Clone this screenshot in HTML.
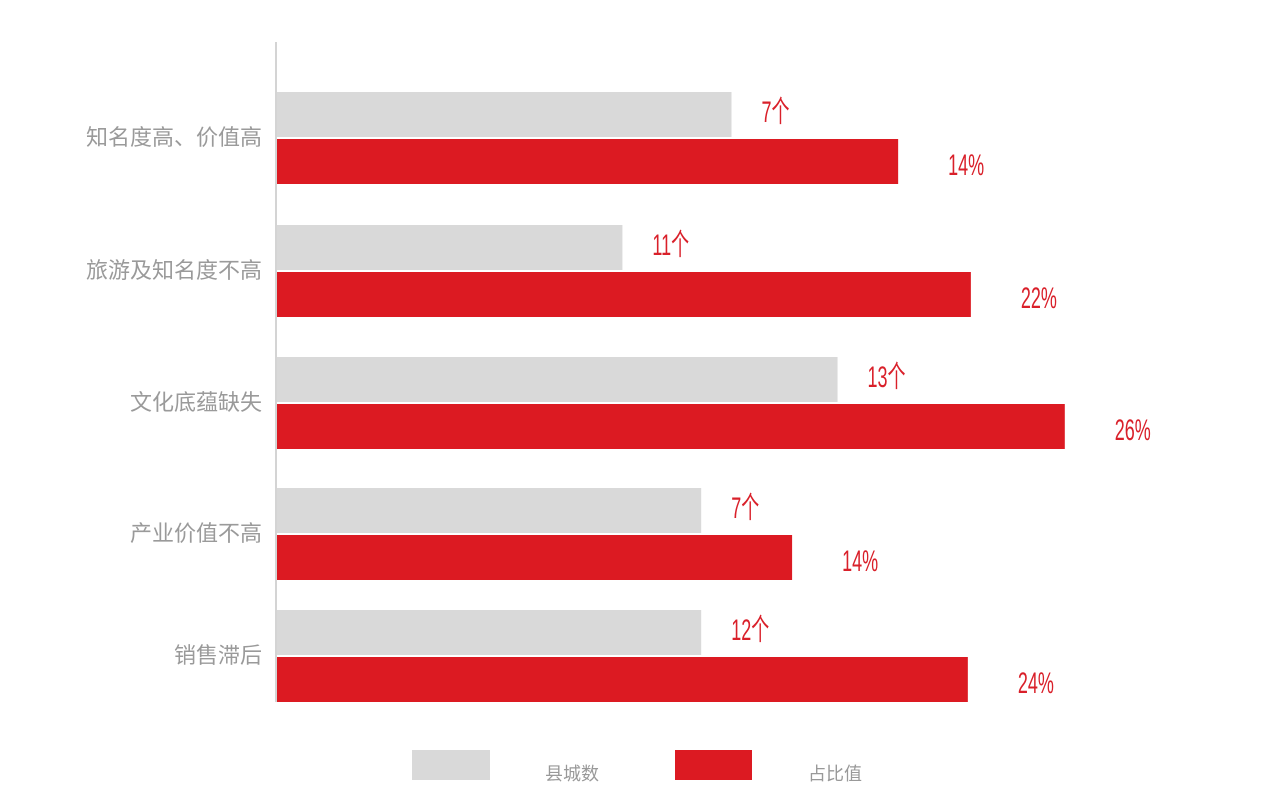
<!DOCTYPE html>
<html><head><meta charset="utf-8"><style>
html,body{margin:0;padding:0;background:#fff;}
svg{display:block;}
</style></head><body>
<svg id="chart" width="1286" height="804" viewBox="0 0 1286 804" xmlns="http://www.w3.org/2000/svg">
<line x1="276" y1="42" x2="276" y2="702" stroke="#d4d4d4" stroke-width="2"/>
<g id="bars"></g>
<g>
<rect x="412" y="750" width="78" height="30" fill="#d9d9d9"/>
<text x="545" y="780" font-size="18" fill="#999" font-family="'Liberation Sans','Noto Sans CJK SC',sans-serif">县城数</text>
<rect x="675" y="750" width="77" height="30" fill="#dc1a22"/>
<text x="808" y="780" font-size="18" fill="#999" font-family="'Liberation Sans','Noto Sans CJK SC',sans-serif">占比值</text>
</g>
</svg>
<script>
const categories = ["知名度高、价值高","旅游及知名度不高","文化底蕴缺失","产业价值不高","销售滞后"];
const countLabels = ["7个","11个","13个","7个","12个"];
const ratioLabels = ["14%","22%","26%","14%","24%"];
const grayBar = [15.0, 11.4, 18.5, 14.0, 14.0];
const redBar = [20.5, 22.9, 26.0, 17.0, 22.8];

const NS = "http://www.w3.org/2000/svg";
const x0 = 277, pxPerUnit = 30.3;
function xScale(v){ return x0 + v * pxPerUnit; }
const groupTops = [92, 225, 357, 488, 610];
const barH = 45;
const g = document.getElementById('bars');
function mk(tag, attrs){ const e=document.createElementNS(NS,tag); for(const k in attrs) e.setAttribute(k,attrs[k]); return e; }
const font = "'Liberation Sans','Noto Sans CJK SC',sans-serif";
categories.forEach((c,i)=>{
  const t = groupTops[i];
  const gr = mk('rect',{x:x0,y:t,width:xScale(grayBar[i])-x0,height:barH,fill:'#d9d9d9'});
  
  
  g.appendChild(gr);
  const rr = mk('rect',{x:x0,y:t+barH+2,width:xScale(redBar[i])-x0,height:barH,fill:'#dc1a22'});
  
  
  g.appendChild(rr);
  const cl = mk('text',{x:262,y:t+barH+8,'text-anchor':'end','font-size':22,fill:'#9a9a9a','font-family':font});
  cl.textContent = c;
  
  
  g.appendChild(cl);
  const cx = xScale(grayBar[i]) + 30;
  const ct = mk('text',{x:0,y:0,'font-size':30,fill:'#d9202a','font-family':font,transform:`translate(${cx},${t+30}) scale(0.6,1)`});
  ct.textContent = countLabels[i];
  
  
  g.appendChild(ct);
  const rx = xScale(redBar[i]) + 50;
  const rt = mk('text',{x:0,y:0,'font-size':30,fill:'#d9202a','font-family':font,transform:`translate(${rx},${t+barH+2+36}) scale(0.6,1)`});
  rt.textContent = ratioLabels[i];
  
  
  g.appendChild(rt);
});
</script>
</body></html>
